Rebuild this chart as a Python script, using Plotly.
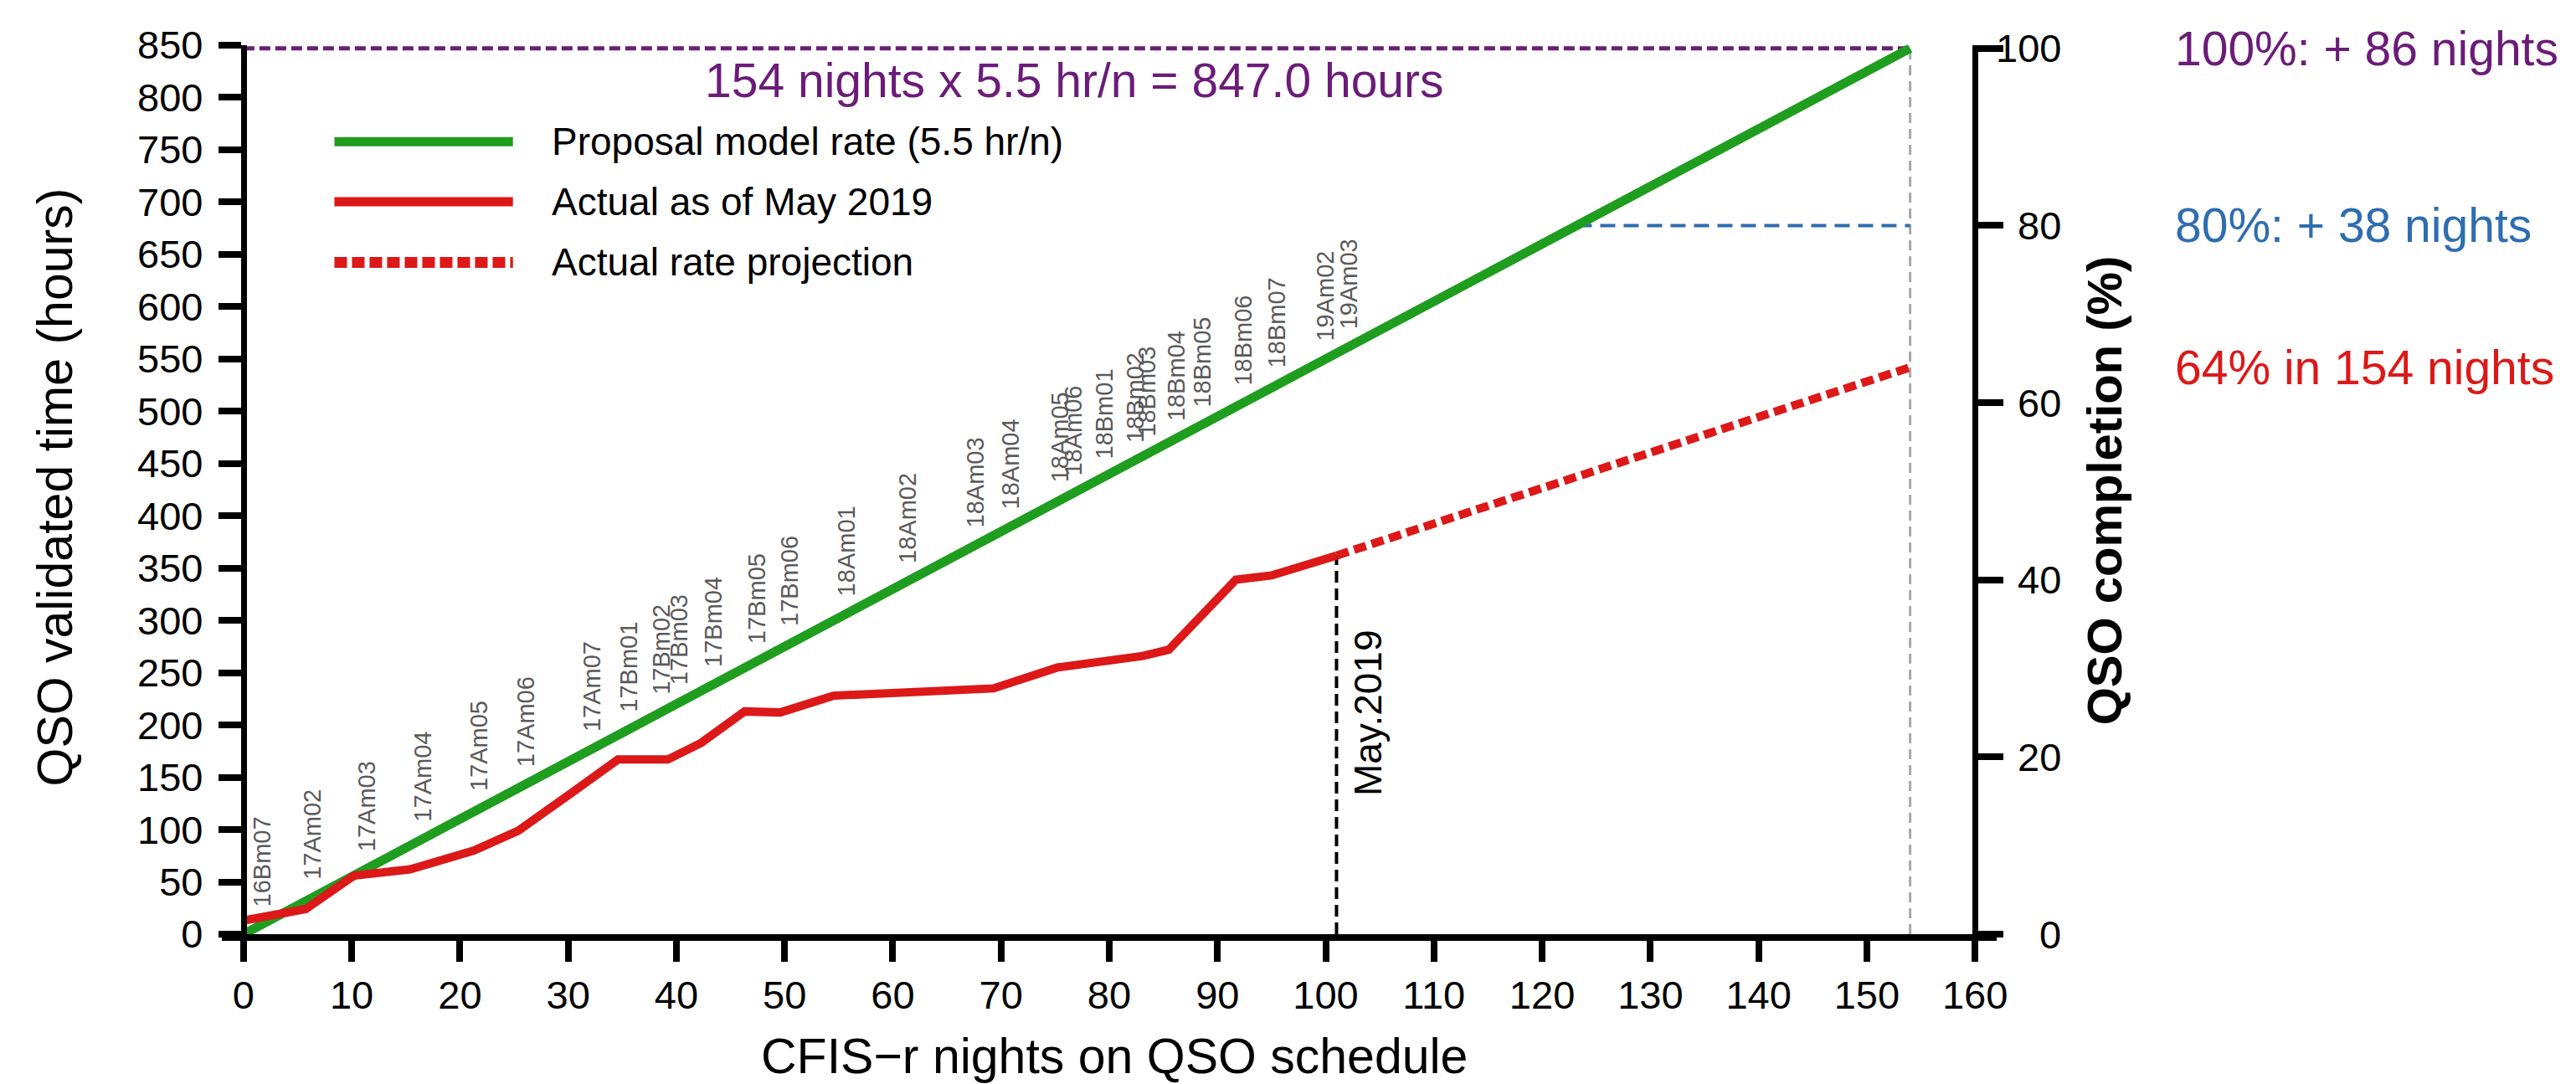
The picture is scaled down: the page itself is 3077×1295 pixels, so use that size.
import plotly.graph_objects as go

FONT = "Liberation Sans, Arial, Helvetica, sans-serif"

# ---------------- data ----------------
actual_nights = [0, 5.75, 10.2, 15.4, 21.3, 25.4, 30.3, 34.6, 39.2, 42.3, 46.3, 49.6,
                 54.5, 60, 65, 69.3, 75.2, 80, 83.1, 85.5, 91.7, 95, 98, 101]
actual_hours = [13, 24, 56, 62, 80, 99, 135, 167, 167, 183, 213, 212,
                228, 231, 233, 235, 255, 261, 266, 272, 339, 343, 352, 362]

model_nights = [0, 154]
model_hours = [0, 847.0]
model_rate = 5.5

proj_nights = [101, 154]
proj_hours = [362, 542]

total_line_nights = [0, 154]
total_line_hours = [847.0, 847.0]

goal80_nights = [123.2, 154]
goal80_hours = [677.6, 677.6]

end_nights = [154, 154]
end_hours = [0, 847.0]

may_nights = [101, 101]
may_hours = [0, 362]

semesters = ["16Bm07", "17Am02", "17Am03", "17Am04", "17Am05", "17Am06", "17Am07",
             "17Bm01", "17Bm02", "17Bm03", "17Bm04", "17Bm05", "17Bm06",
             "18Am01", "18Am02", "18Am03", "18Am04", "18Am05", "18Am06",
             "18Bm01", "18Bm02", "18Bm03", "18Bm04", "18Bm05", "18Bm06", "18Bm07",
             "19Am02", "19Am03"]
semester_nights = [1.7, 6.4, 11.4, 16.6, 21.8, 26.1, 32.2,
                   35.6, 38.6, 40.3, 43.4, 47.4, 50.5,
                   55.7, 61.4, 67.6, 70.9, 75.5, 76.7,
                   79.5, 82.4, 83.5, 86.2, 88.6, 92.4, 95.5,
                   100.0, 102.1]

x_ticks = list(range(0, 161, 10))
y_ticks = list(range(0, 851, 50))
pct_ticks = [0, 20, 40, 60, 80, 100]
hours_per_pct = 8.47

legend_names = ["Proposal model rate (5.5 hr/n)", "Actual as of May 2019", "Actual rate projection"]

right_notes = ["100%: + 86 nights", "80%: + 38 nights", "64% in 154 nights"]
right_note_pct = [100, 80, 64]

# ---------------- styles ----------------
GREEN = "#1f9d1f"
RED = "#dc1818"
PURPLE = "#6b1c78"
BLUE = "#2e6db0"
GREY = "#a8a8a8"
LABGREY = "#5a5a5a"

# plot-area geometry (pixels) used to place text outside the axes
W, H = 3077, 1295
ML, MR, MT, MB = 265, 692, 54, 179
PW, PH = W - ML - MR, H - MT - MB


def px_to_paper_x(px):
    return (px - ML) / PW


def px_to_paper_y(py):
    return (H - MB - py) / PH


fig = go.Figure()

fig.add_trace(go.Scatter(x=total_line_nights, y=total_line_hours, mode="lines",
                         line=dict(color=PURPLE, width=5, dash="13px,6px"),
                         showlegend=False, hoverinfo="skip"))
fig.add_trace(go.Scatter(x=end_nights, y=end_hours, mode="lines",
                         line=dict(color=GREY, width=3, dash="12px,7px"),
                         showlegend=False, hoverinfo="skip"))
fig.add_trace(go.Scatter(x=goal80_nights, y=goal80_hours, mode="lines",
                         line=dict(color=BLUE, width=4, dash="18px,10px"),
                         showlegend=False, hoverinfo="skip"))
fig.add_trace(go.Scatter(x=may_nights, y=may_hours, mode="lines",
                         line=dict(color="black", width=4, dash="14px,7px"),
                         showlegend=False, hoverinfo="skip"))
fig.add_trace(go.Scatter(x=model_nights, y=model_hours, mode="lines",
                         line=dict(color=GREEN, width=11),
                         name=legend_names[0], showlegend=False))
fig.add_trace(go.Scatter(x=proj_nights, y=proj_hours, mode="lines",
                         line=dict(color=RED, width=10, dash="15px,7px"),
                         name=legend_names[2], showlegend=False))
fig.add_trace(go.Scatter(x=actual_nights, y=actual_hours, mode="lines",
                         line=dict(color=RED, width=10),
                         name=legend_names[1], showlegend=False))
# activates the right-hand percentage axis
fig.add_trace(go.Scatter(x=[None], y=[None], yaxis="y2", mode="lines",
                         showlegend=False, hoverinfo="skip"))

annotations = []
# semester labels (rotated, sitting just above the model line)
for name, xn in zip(semesters, semester_nights):
    annotations.append(dict(x=xn, y=model_rate * xn + 15, xref="x", yref="y",
                            text=name, textangle=-90, showarrow=False,
                            xanchor="center", yanchor="bottom",
                            font=dict(family=FONT, size=29, color=LABGREY)))

# total hours text
annotations.append(dict(x=76.8, y=816, xref="x", yref="y",
                        text="154 nights x 5.5 hr/n = 847.0 hours", showarrow=False,
                        xanchor="center", yanchor="middle",
                        font=dict(family=FONT, size=57, color=PURPLE)))

# May.2019
annotations.append(dict(x=103.9, y=212, xref="x", yref="y", text="May.2019",
                        textangle=-90, showarrow=False, xanchor="center", yanchor="middle",
                        font=dict(family=FONT, size=46, color="black")))

# legend (drawn by hand for long sample lines)
legend_y = [757.8, 700.3, 642.4]
legend_styles = [dict(color=GREEN, width=11),
                 dict(color=RED, width=11),
                 dict(color=RED, width=13, dash="15px,6px")]
shapes = []
for name, ly, st in zip(legend_names, legend_y, legend_styles):
    shapes.append(dict(type="line", xref="x", yref="y", x0=8.4, x1=24.9, y0=ly, y1=ly,
                       line=st))
    annotations.append(dict(x=28.3, y=ly, xref="x", yref="y", text=name, showarrow=False,
                            xanchor="left", yanchor="middle",
                            font=dict(family=FONT, size=46, color="black")))

# right-axis tick labels (right-aligned)
for p in pct_ticks:
    annotations.append(dict(x=px_to_paper_x(2464), y=p, xref="paper", yref="y2", text=str(p),
                            showarrow=False, xanchor="right", yanchor="middle",
                            font=dict(family=FONT, size=47, color="black")))

# right-hand notes
note_colors = [PURPLE, BLUE, RED]
for txt, p, c in zip(right_notes, right_note_pct, note_colors):
    annotations.append(dict(x=px_to_paper_x(2596), y=p, xref="paper", yref="y2", text=txt,
                            showarrow=False, xanchor="left", yanchor="middle",
                            font=dict(family=FONT, size=57, color=c)))

# axis titles
annotations.append(dict(x=px_to_paper_x(65), y=427, xref="paper", yref="y",
                        text="QSO validated time (hours)",
                        textangle=-90, showarrow=False, xanchor="center", yanchor="middle",
                        font=dict(family=FONT, size=59, color="black")))
annotations.append(dict(x=px_to_paper_x(2513), y=424, xref="paper", yref="y",
                        text="<b>QSO completion (%)</b>",
                        textangle=-90, showarrow=False, xanchor="center", yanchor="middle",
                        font=dict(family=FONT, size=58, color="black")))
annotations.append(dict(x=80.5, y=px_to_paper_y(1262), xref="x", yref="paper",
                        text="CFIS\u2212r nights on QSO schedule",
                        showarrow=False, xanchor="center", yanchor="middle",
                        font=dict(family=FONT, size=59, color="black")))

fig.update_layout(
    width=W, height=H, autosize=False,
    margin=dict(l=ML, r=MR, t=MT, b=MB, pad=0),
    paper_bgcolor="white", plot_bgcolor="white",
    font=dict(family=FONT, size=47, color="black"),
    showlegend=False,
    xaxis=dict(range=[-2, 162], domain=[0, 1], tickvals=x_ticks, ticks="outside",
               ticklen=25, tickwidth=8, tickcolor="black", showline=True, linewidth=8,
               linecolor="black", showgrid=False, zeroline=False,
               tickfont=dict(family=FONT, size=47, color="black"), ticklabelstandoff=0),
    yaxis=dict(range=[0, 850], anchor="free", position=2 / 164, tickvals=y_ticks,
               ticks="outside", ticklen=27, tickwidth=8, tickcolor="black", showline=True,
               linewidth=7, linecolor="black", showgrid=False, zeroline=False,
               tickfont=dict(family=FONT, size=47, color="black"), ticklabelstandoff=9),
    yaxis2=dict(range=[0, 850 / hours_per_pct], overlaying="y", side="right", anchor="free",
                position=162 / 164, tickvals=pct_ticks, showticklabels=False,
                ticks="outside", ticklen=30, tickwidth=8, tickcolor="black", showline=True,
                linewidth=7, linecolor="black", showgrid=False, zeroline=False),
    annotations=annotations,
    shapes=shapes,
)

fig.write_html("out.html")
